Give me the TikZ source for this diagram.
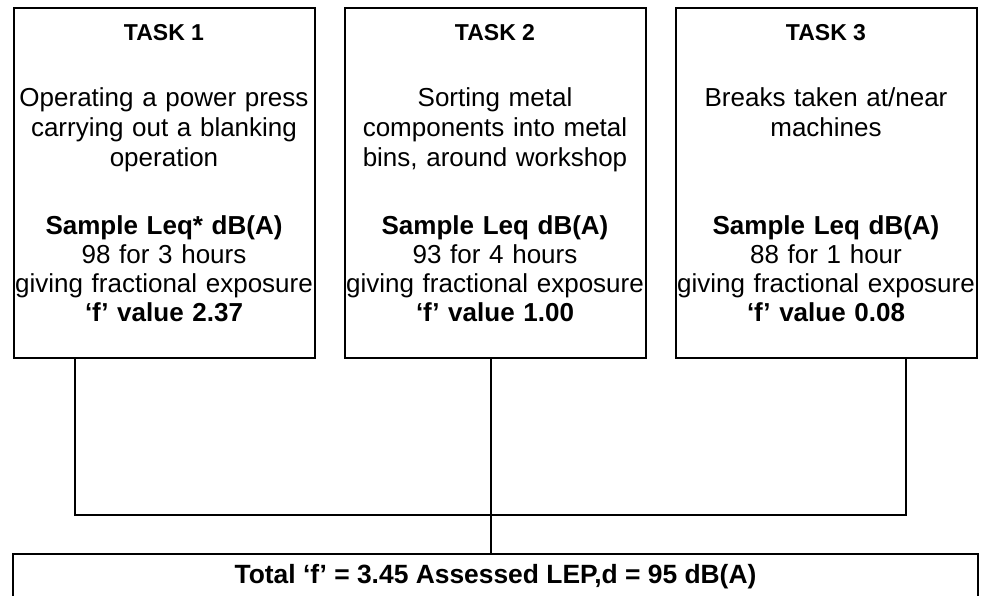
\documentclass[tikz,border=0pt]{standalone}
\usepackage{fontspec}
\setmainfont{Liberation Sans}
\usetikzlibrary{positioning}

\begin{document}
\begin{tikzpicture}[x=1pt, y=-1pt, line width=2pt,
    task/.style = {draw, outer sep=0pt, inner sep=0pt, minimum width=301pt, minimum height=350pt},
    head/.style = {anchor=base, font=\fontsize{23}{27}\selectfont\bfseries},
    desc/.style = {anchor=base, text width=320pt, align=center, inner sep=0pt, font=\fontsize{26}{30}\selectfont},
    data/.style = {anchor=base, text width=320pt, align=center, inner sep=0pt, font=\fontsize{26}{29}\selectfont},
    total/.style = {draw, outer sep=0pt, inner sep=0pt, minimum width=965pt, text height=29.5pt, text depth=40pt, font=\fontsize{26.4}{30}\selectfont\bfseries}]
    \useasboundingbox (0,0) rectangle (981,595);

    \node[task, anchor=north] (task1) at (164,8) {};
    \node[task] (task2) [right=30pt of task1] {};
    \node[task] (task3) [right=30pt of task2] {};

    \node[head] (head1) at ([yshift=-32.5pt]task1.north) {TASK 1};
    \node[head] (head2) at ([yshift=-32.5pt]task2.north) {TASK 2};
    \node[head] (head3) at ([yshift=-32.5pt]task3.north) {TASK 3};

    \node[desc] (desc1) at ([yshift=-98pt]task1.north) {Operating a power press\\carrying out a blanking\\operation};
    \node[desc] (desc2) at ([yshift=-98pt]task2.north) {Sorting metal\\components into metal\\bins, around workshop};
    \node[desc] (desc3) at ([yshift=-98pt]task3.north) {Breaks taken at/near\\machines};

    \node[data] (data1) at ([yshift=-226.5pt]task1.north) {\textbf{Sample Leq* dB(A)}\\98 for 3 hours\\giving fractional exposure\\\textbf{`f' value 2.37}};
    \node[data] (data2) at ([yshift=-226.5pt]task2.north) {\textbf{Sample Leq dB(A)}\\93 for 4 hours\\giving fractional exposure\\\textbf{`f' value 1.00}};
    \node[data] (data3) at ([yshift=-226.5pt]task3.north) {\textbf{Sample Leq dB(A)}\\88 for 1 hour\\giving fractional exposure\\\textbf{`f' value 0.08}};

    \node[total, anchor=north] (total) at (495.5,553.5) {Total `f' = 3.45 Assessed LEP,d = 95 dB(A)};

    \coordinate (join1) at (75,514.5);
    \coordinate (join2) at (491,514.5);
    \coordinate (join3) at (906,514.5);

    \draw (task1.south -| join1) -- (join1) -- (join3) -- (task3.south -| join3);
    \draw (task2.south -| join2) -- (total.north -| join2);
\end{tikzpicture}
\end{document}
